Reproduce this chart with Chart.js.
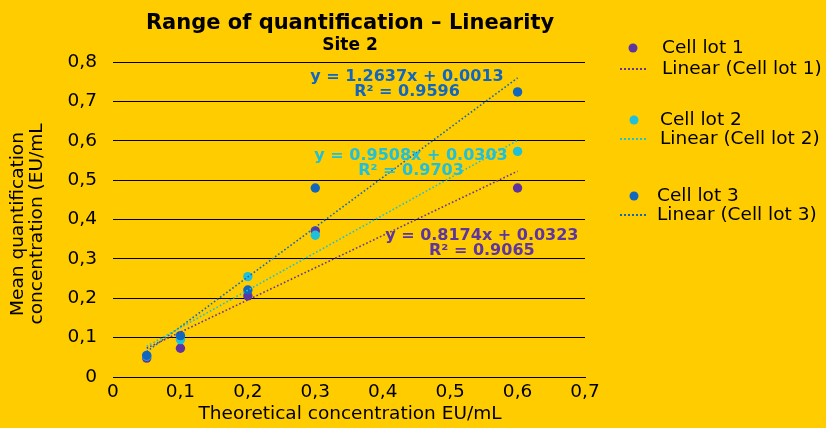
<!DOCTYPE html>
<html>
<head>
<meta charset="utf-8">
<script src="https://cdn.jsdelivr.net/npm/chart.js@4"></script>
<style>
html,body{margin:0;padding:0;background:#FFCC00;}
#wrap{width:826px;height:428px;position:relative;}
</style>
</head>
<body>
<div id="wrap"><canvas id="c" width="826" height="428"></canvas></div>
<script>
const theoretical = [0.05, 0.1, 0.2, 0.3, 0.6];
const seriesNames = ['Cell lot 1', 'Cell lot 2', 'Cell lot 3'];
const lot1 = [0.048, 0.073, 0.206, 0.371, 0.480];
const lot2 = [0.053, 0.095, 0.255, 0.360, 0.573];
const lot3 = [0.055, 0.105, 0.221, 0.480, 0.724];
const slopes = [0.8174, 0.9508, 1.2637];
const intercepts = [0.0323, 0.0303, 0.0013];
const r2 = ['0.9065', '0.9703', '0.9596'];
const colors = ['#5E35A0', '#1FC0DA', '#1166BE'];
const xTicks = [0, 0.1, 0.2, 0.3, 0.4, 0.5, 0.6, 0.7];
const yTicks = [0, 0.1, 0.2, 0.3, 0.4, 0.5, 0.6, 0.7, 0.8];

const FONT = "'DejaVu Sans', Verdana, sans-serif";
const values = [lot1, lot2, lot3];
const xmin = Math.min(...theoretical), xmax = Math.max(...theoretical);

const datasets = [];
values.forEach((vals, i) => {
  datasets.push({
    label: seriesNames[i],
    data: theoretical.map((x, k) => ({x: x, y: vals[k]})),
    backgroundColor: colors[i],
    borderColor: colors[i],
    pointRadius: 4.7,
    pointHoverRadius: 4.7,
    borderWidth: 0,
    showLine: false,
    order: 3 - i
  });
});
values.forEach((vals, i) => {
  datasets.push({
    label: 'Linear (' + seriesNames[i] + ')',
    data: [xmin, xmax].map(x => ({x: x, y: slopes[i] * x + intercepts[i]})),
    borderColor: colors[i],
    borderWidth: 1.6,
    borderDash: [1.6, 2.2],
    pointRadius: 0,
    showLine: true,
    fill: false,
    order: -1
  });
});

const fmt = v => (Math.round(v * 10) / 10).toString().replace('.', ',');

// equation label anchors in data coordinates (x, y of first line)
const eqAnchors = [
  {x: 0.547, y: 0.358},
  {x: 0.442, y: 0.561},
  {x: 0.436, y: 0.762}
];

const decorPlugin = {
  id: 'decor',
  afterDatasetsDraw(chart) {
    const ctx = chart.ctx;
    const xs = chart.scales.x, ys = chart.scales.y;
    ctx.save();
    ctx.textBaseline = 'middle';
    ctx.textAlign = 'center';
    ctx.fillStyle = '#000';
    ctx.font = 'bold 21px ' + FONT;
    ctx.fillText('Range of quantification \u2013 Linearity', 350, 24);
    ctx.font = 'bold 17px ' + FONT;
    ctx.fillText('Site 2', 350, 46);

    // equations
    ctx.font = 'bold 16px ' + FONT;
    for (let i = 0; i < 3; i++) {
      const a = eqAnchors[i];
      const px = xs.getPixelForValue(a.x), py = ys.getPixelForValue(a.y);
      ctx.fillStyle = colors[i];
      const eq = 'y = ' + slopes[i].toFixed(4) + 'x + ' + intercepts[i].toFixed(4);
      ctx.fillText(eq, px, py);
      ctx.fillText('R\u00B2 = ' + r2[i], px, py + 15);
    }

    // axis titles
    ctx.fillStyle = '#000';
    ctx.font = '18.5px ' + FONT;
    ctx.fillText('Theoretical concentration EU/mL', 350, 414);
    ctx.save();
    ctx.translate(18, 224);
    ctx.rotate(-Math.PI / 2);
    ctx.fillText('Mean quantification', 0, 0);
    ctx.fillText('concentration (EU/mL', 0, 19);
    ctx.restore();

    // legend
    const legendRows = [
      {dotX: 633, dotY: 48, lineY: 69, textX: 662},
      {dotX: 634, dotY: 120, lineY: 139, textX: 660},
      {dotX: 634, dotY: 196, lineY: 215, textX: 657}
    ];
    ctx.textAlign = 'left';
    ctx.font = '18.5px ' + FONT;
    legendRows.forEach((r, i) => {
      ctx.fillStyle = colors[i];
      ctx.beginPath();
      ctx.arc(r.dotX, r.dotY, 4.5, 0, Math.PI * 2);
      ctx.fill();
      ctx.strokeStyle = colors[i];
      ctx.lineWidth = 2;
      ctx.setLineDash([2, 2]);
      ctx.beginPath();
      ctx.moveTo(620, r.lineY);
      ctx.lineTo(648, r.lineY);
      ctx.stroke();
      ctx.setLineDash([]);
      ctx.fillStyle = '#000';
      ctx.fillText(chart.data.datasets[i].label, r.textX, r.dotY);
      ctx.fillText(chart.data.datasets[i + 3].label, r.textX, r.lineY);
    });
    ctx.restore();
  }
};

new Chart(document.getElementById('c'), {
  type: 'scatter',
  data: {datasets: datasets},
  options: {
    responsive: false,
    animation: false,
    devicePixelRatio: 1,
    layout: {padding: {left: 0, right: 241, top: 62, bottom: 0}},
    plugins: {legend: {display: false}, title: {display: false}, tooltip: {enabled: false}},
    scales: {
      x: {
        type: 'linear', min: 0, max: 0.7,
        afterBuildTicks: s => { s.ticks = xTicks.map(v => ({value: v})); },
        afterFit: s => { s.height = 51; },
        grid: {display: false, drawTicks: false},
        border: {display: true, color: '#000', width: 1},
        ticks: {color: '#000', font: {family: FONT, size: 18.5}, padding: 4, callback: v => fmt(v), maxRotation: 0, autoSkip: false}
      },
      y: {
        type: 'linear', min: 0, max: 0.8,
        afterBuildTicks: s => { s.ticks = yTicks.map(v => ({value: v})); },
        afterFit: s => { s.width = 113; },
        grid: {color: '#000', lineWidth: 1, drawTicks: false},
        border: {display: false},
        ticks: {color: '#000', font: {family: FONT, size: 18.5}, padding: 16, callback: v => fmt(v), autoSkip: false}
      }
    }
  },
  plugins: [decorPlugin, {
    id: 'bg',
    beforeDraw(chart) {
      const c = chart.ctx; c.save(); c.fillStyle = '#FFCC00'; c.fillRect(0, 0, chart.width, chart.height); c.restore();
    }
  }]
});
</script>
</body>
</html>
